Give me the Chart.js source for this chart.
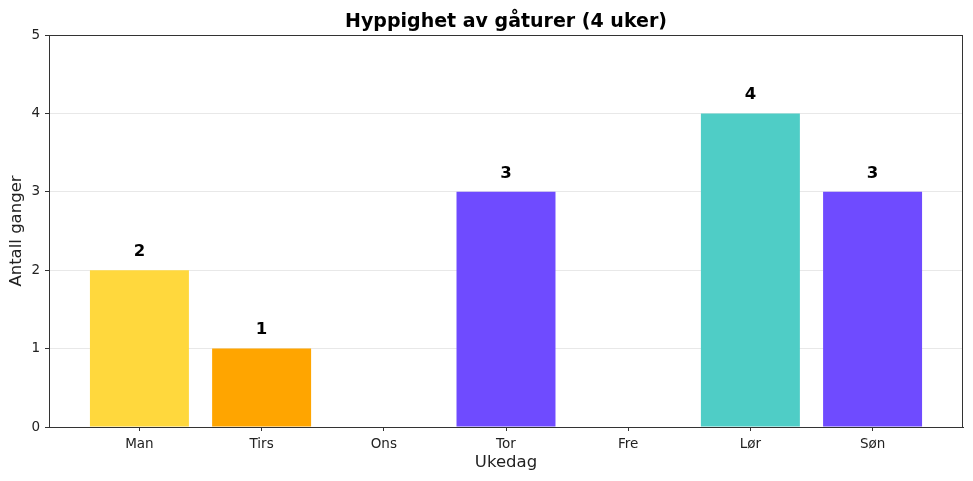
<!DOCTYPE html>
<html>
<head>
<meta charset="utf-8">
<script src="https://cdn.jsdelivr.net/npm/chart.js@4"></script>
<style>
  body { margin: 0; background: #fff; }
  #wrap { width: 973px; height: 481px; }
</style>
</head>
<body>
<div id="wrap"><canvas id="walkChart"></canvas></div>
<script>
const days = ['Man', 'Tirs', 'Ons', 'Tor', 'Fre', 'Lør', 'Søn'];
const walks = [2, 1, 0, 3, 0, 4, 3];
const barColors = ['#FFD83D', '#FFA500', '#6F4BFF', '#6F4BFF', '#6F4BFF', '#4FCDC6', '#6F4BFF'];
const yTicks = [0, 1, 2, 3, 4, 5];

const FONT = 'DejaVu Sans';
const dark = '#333333';

// title, frame and value labels, drawn like matplotlib does
const extras = {
    id: 'extras',
    afterDraw(chart) {
        const { ctx, chartArea: a, scales } = chart;
        ctx.save();
        ctx.strokeStyle = dark;
        ctx.lineWidth = 1;
        ctx.strokeRect(a.left + 0.5, a.top + 0.5, a.right - a.left - 1, a.bottom - a.top);

        ctx.fillStyle = '#000';
        ctx.textAlign = 'center';
        ctx.textBaseline = 'alphabetic';
        ctx.font = 'bold 19px ' + FONT;
        ctx.fillText('Hyppighet av gåturer (4 uker)', (a.left + a.right) / 2, 27);

        ctx.font = 'bold 16.5px ' + FONT;
        ctx.textBaseline = 'bottom';
        walks.forEach((v, i) => {
            if (v > 0) {
                ctx.fillText(String(v), scales.x.getPixelForValue(i), scales.y.getPixelForValue(v + 0.13));
            }
        });
        ctx.restore();
    }
};

new Chart(document.getElementById('walkChart'), {
    type: 'bar',
    data: {
        datasets: [{
            data: walks.map((v, i) => ({ x: i, y: v })),
            backgroundColor: barColors,
            borderWidth: 0,
            barPercentage: 0.81,
            categoryPercentage: 1.0
        }]
    },
    options: {
        responsive: true,
        maintainAspectRatio: false,
        animation: false,
        layout: { padding: { top: 35, right: 10, left: 0, bottom: 8 } },
        plugins: {
            legend: { display: false },
            tooltip: { enabled: false }
        },
        scales: {
            x: {
                type: 'linear',
                offset: false,
                min: -0.74,
                max: 6.74,
                afterBuildTicks: s => { s.ticks = days.map((_, i) => ({ value: i })); },
                afterFit: s => { s.height = 46; },
                ticks: {
                    callback: v => days[v],
                    autoSkip: false,
                    maxRotation: 0,
                    color: '#222',
                    font: { family: FONT, size: 13.5 },
                    padding: 5
                },
                grid: { offset: false, drawOnChartArea: false, tickColor: dark, tickLength: 4 },
                border: { color: dark, width: 1 },
                title: {
                    display: true,
                    text: 'Ukedag',
                    color: '#222',
                    font: { family: FONT, size: 16.5 },
                    padding: { top: 0, bottom: 0 }
                }
            },
            y: {
                min: 0,
                max: 5,
                z: 1,
                afterBuildTicks: s => { s.ticks = yTicks.map(v => ({ value: v })); },
                afterFit: s => { s.width = 49; },
                ticks: {
                    color: '#222',
                    font: { family: FONT, size: 13.5 },
                    padding: 5
                },
                grid: { color: 'rgba(0,0,0,0.09)', tickColor: dark, tickLength: 4 },
                border: { color: dark, width: 1 },
                title: {
                    display: true,
                    text: 'Antall ganger',
                    color: '#222',
                    font: { family: FONT, size: 16.5 },
                    padding: { top: 7, bottom: 0 }
                }
            }
        }
    },
    plugins: [extras]
});
</script>
</body>
</html>
